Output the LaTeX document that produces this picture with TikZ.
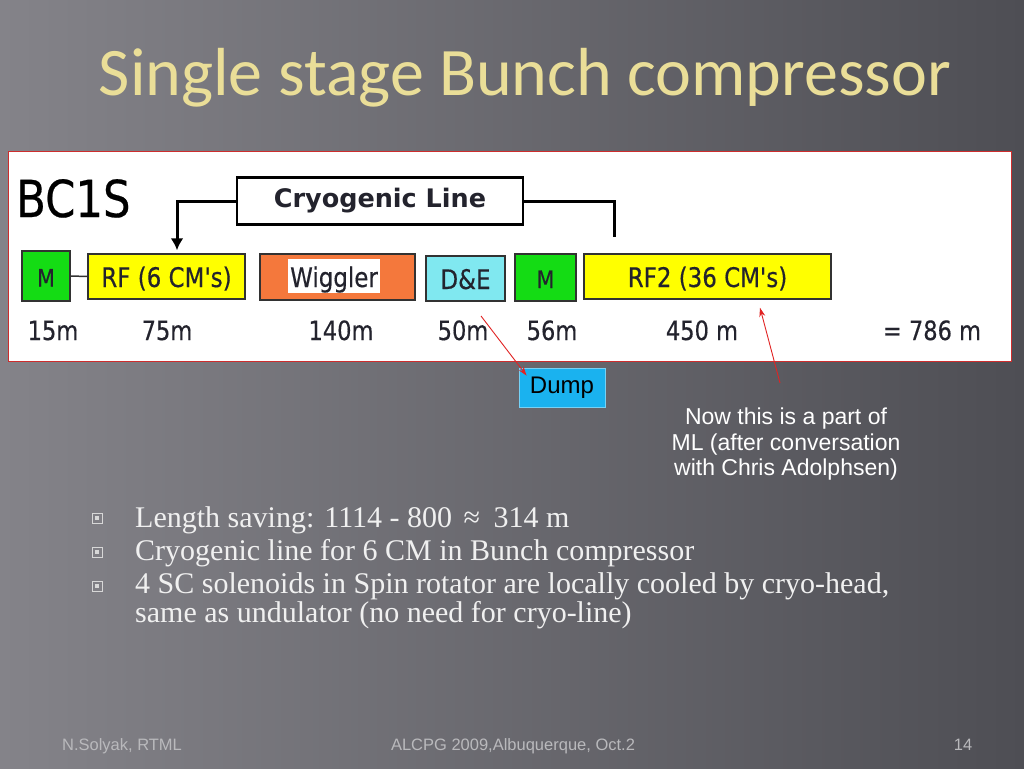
\documentclass[tikz,border=0pt]{standalone}
\usepackage{fontspec}
\usetikzlibrary{arrows.meta}
\setmainfont{Liberation Serif}
\newfontfamily\titlefont{Carlito}
\newfontfamily\tahfont[FakeStretch=0.85,FakeBold=0.4]{DejaVu Sans}
\newfontfamily\verfont{DejaVu Sans}
\newfontfamily\arialfont{Liberation Sans}
\definecolor{bgL}{RGB}{132,131,137}
\definecolor{bgR}{RGB}{78,78,84}
\definecolor{titleC}{RGB}{234,222,152}
\definecolor{panelred}{RGB}{205,45,45}
\definecolor{boxline}{RGB}{50,50,50}
\definecolor{textdark}{RGB}{35,35,45}
\definecolor{mgreen}{RGB}{20,220,20}
\definecolor{rfyellow}{RGB}{255,255,0}
\definecolor{wigorange}{RGB}{244,120,60}
\definecolor{decyan}{RGB}{128,232,240}
\definecolor{dumpblue}{RGB}{26,178,239}
\definecolor{arrowred}{RGB}{225,35,35}
\definecolor{footC}{RGB}{185,185,188}
\definecolor{bulletC}{RGB}{215,215,215}
\begin{document}
\begin{tikzpicture}[x=1pt,y=-1pt,
  box/.style={draw=boxline, line width=1.5pt, inner sep=0pt, minimum height=45pt,
    text height=21pt, text depth=0pt,
    font=\tahfont\fontsize{27}{30}\selectfont, text=textdark},
  mbox/.style={box, fill=mgreen, font=\tahfont\fontsize{24}{26}\selectfont},
  lenlabel/.style={anchor=base, inner sep=0pt, font=\tahfont\fontsize{26.5}{30}\selectfont, text=textdark},
  cryoarrow/.style={line width=3pt, -{Latex[length=12pt,width=13pt]}},
  cryoline/.style={line width=3pt},
  redarrow/.style={draw=arrowred, line width=0.9pt, -{Stealth[length=9pt,width=6pt]}},
  bullettext/.style={anchor=base west, inner sep=0pt, text=white!94!black,
    font=\fontsize{30}{34}\selectfont},
  bulletbox/.style={draw=bulletC, line width=0.9pt, minimum size=10pt, inner sep=0pt},
  bulletdot/.style={fill=bulletC, minimum size=4pt, inner sep=0pt},
  foot/.style={anchor=base, inner sep=0pt, text=footC, font=\arialfont\fontsize{16.5}{18}\selectfont}
]
\useasboundingbox (0,0) rectangle (1024,768);
\shade[left color=bgL, right color=bgR] (0,0) rectangle (1024,768);

% title
\node[anchor=base, inner sep=0pt, text=titleC,
  font=\titlefont\fontsize{68}{80}\selectfont] (title) at (525,95) {Single stage Bunch compressor};

% white panel
\node[draw=panelred, line width=1pt, fill=white, minimum width=1003pt, minimum height=210pt,
  inner sep=0pt, anchor=north west] (panel) at (8,151) {};

\node[anchor=base west, inner sep=0pt, text=black, font=\tahfont\fontsize{51}{60}\selectfont] (bc1s) at (16,217) {BC1S};

% cryogenic line box
\node[draw=black, line width=2.6pt, minimum width=286pt, minimum height=47pt, inner sep=0pt,
  font=\verfont\bfseries\fontsize{25.5}{28}\selectfont, text=textdark] (cryo) at (380,201) {Cryogenic Line};

% beamline boxes
\node[mbox, minimum width=48pt, minimum height=50pt] (m1) at (46,276) {M};
\node[box, fill=rfyellow, minimum width=157pt] (rf) at (166.5,276.5) {RF (6 CM's)};
\node[box, fill=wigorange, minimum width=155pt, minimum height=46pt] (wig) at (337.5,277) {};
\node[fill=white, minimum width=92pt, minimum height=34pt, inner sep=0pt,
  text height=24pt, text depth=2pt,
  font=\tahfont\fontsize{27}{30}\selectfont, text=textdark] (wigtext) at (334,276) {Wiggler};
\node[box, fill=decyan, minimum width=79pt] (de) at (465.5,278.5) {D\&E};
\node[mbox, minimum width=61pt, minimum height=47pt] (m2) at (545.5,277.5) {M};
\node[box, fill=rfyellow, minimum width=247pt] (rf2) at (707.5,276.5) {RF2 (36 CM's)};

\draw[line width=1.5pt, boxline] (m1.east) -- (rf.west);

% cryo connections
\draw[cryoarrow] (cryo.west) -| ([xshift=10.5pt,yshift=3pt]rf.north);
\coordinate (cryoend) at (614,237);
\draw[cryoline] (cryo.east) -| (cryoend);

% lengths
\node[lenlabel] (l1) at (53,340) {15m};
\node[lenlabel] (l2) at (167,340) {75m};
\node[lenlabel] (l3) at (341,340) {140m};
\node[lenlabel] (l4) at (463,340) {50m};
\node[lenlabel] (l5) at (552,340) {56m};
\node[lenlabel] (l6) at (702,340) {450 m};
\node[lenlabel] (l7) at (932,340) {= 786 m};

% dump
\node[fill=dumpblue, draw=dumpblue!60!white, line width=0.8pt, minimum width=86pt, minimum height=39pt,
  inner sep=0pt, font=\arialfont\fontsize{24}{26}\selectfont, text=black] (dump) at (562,387.5) {Dump};
\coordinate (dumpfrom) at (481,316);
\draw[redarrow] (dumpfrom) -- ([xshift=8pt,yshift=-8pt]dump.north west);

% note
\node[align=center, inner sep=0pt, text=white, font=\arialfont\fontsize{23}{25.5}\selectfont,
  anchor=north] (note) at (786,408) {Now this is a part of\\ML (after conversation\\with Chris Adolphsen)};
\coordinate (notefrom) at (780,383);
\draw[redarrow] (notefrom) -- ([xshift=52.5pt,yshift=-8pt]rf2.south);

% bullets
\node[bulletbox] (b1) at (97,518) {};
\node[bulletdot] (b1d) at (b1) {};
\node[bulletbox] (b2) at (97,552) {};
\node[bulletdot] (b2d) at (b2) {};
\node[bulletbox] (b3) at (97,586) {};
\node[bulletdot] (b3d) at (b3) {};
\node[bullettext] (t1) at (135,527) {Length saving: 1114 - 800 \hspace{4pt}≈\hspace{6pt} 314 m};
\node[bullettext] (t2) at (135,560) {Cryogenic line for 6 CM in Bunch compressor};
\node[bullettext] (t3) at (135,593) {4 SC solenoids in Spin rotator are locally cooled by cryo-head,};
\node[bullettext] (t4) at (135,622) {same as undulator (no need for cryo-line)};

% footer
\node[foot] (f1) at (122,750) {N.Solyak, RTML};
\node[foot] (f2) at (513,750) {ALCPG 2009,Albuquerque, Oct.2};
\node[foot] (f3) at (963,750) {14};
\end{tikzpicture}
\end{document}
